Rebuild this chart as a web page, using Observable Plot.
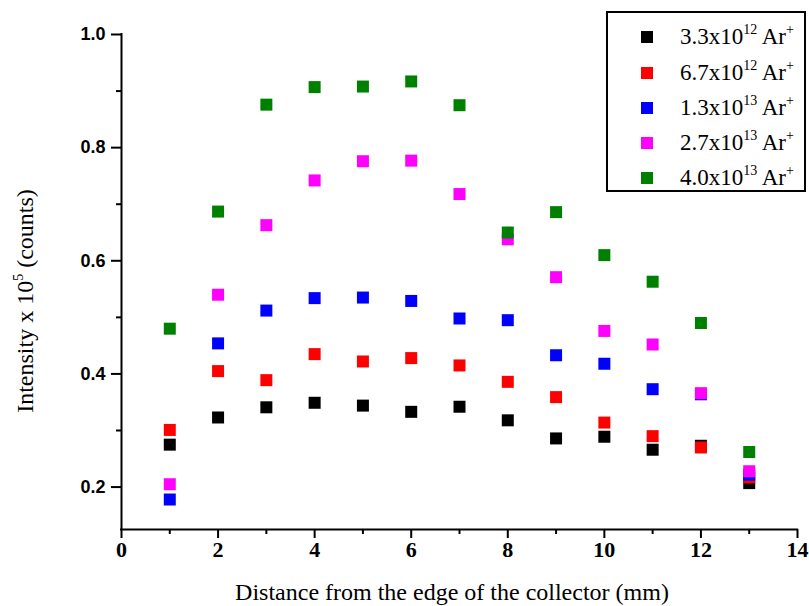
<!DOCTYPE html>
<html><head><meta charset="utf-8">
<script src="https://cdn.jsdelivr.net/npm/d3@7"></script>
<script src="https://cdn.jsdelivr.net/npm/@observablehq/plot@0.6"></script>
<style>
body{margin:0;background:#fff;}
#wrap{position:relative;width:809px;height:606px;overflow:hidden;}
.legend{position:absolute;left:606px;top:11px;width:196px;height:177px;border:2px solid #000;background:#fff;
  font-family:"Liberation Serif","Times New Roman",serif;font-size:23px;color:#000;}
.row{position:absolute;left:0;width:190px;height:24px;line-height:24px;white-space:nowrap;}
.sw{position:absolute;left:33px;top:6px;width:12px;height:12px;}
.lbl{position:absolute;left:72px;top:0;}
.lbl sup{font-size:14px;vertical-align:10px;line-height:0;}
</style>
</head><body>
<div id="wrap"></div>
<script>
const distance = [1,2,3,4,5,6,7,8,9,10,11,12,13];
const series1 = [0.275,0.323,0.341,0.349,0.344,0.333,0.342,0.318,0.286,0.289,0.266,0.273,0.207]; // 3.3x10^12
const series2 = [0.301,0.405,0.389,0.435,0.422,0.428,0.415,0.386,0.359,0.314,0.290,0.270,0.217]; // 6.7x10^12
const series3 = [0.178,0.454,0.512,0.534,0.535,0.529,0.498,0.495,0.433,0.418,0.373,0.364,0.222]; // 1.3x10^13
const series4 = [0.205,0.540,0.663,0.742,0.776,0.777,0.718,0.638,0.571,0.476,0.452,0.366,0.228]; // 2.7x10^13
const series5 = [0.480,0.687,0.876,0.907,0.908,0.917,0.875,0.650,0.686,0.610,0.563,0.490,0.262]; // 4.0x10^13
const seriesMantissa = ["3.3","6.7","1.3","2.7","4.0"];
const seriesExponent = ["12","12","13","13","13"];
const seriesColors = ["#000000","#ff0000","#0000ff","#ff00ff","#008000"];
const xMajorTicks = [0,2,4,6,8,10,12,14];
const xMinorTicks = [1,3,5,7,9,11,13];
const yMajorTicks = [0.2,0.4,0.6,0.8,1.0];
const yMinorTicks = [0.3,0.5,0.7,0.9];
const xTitle = "Distance from the edge of the collector (mm)";

const allSeries = [series1,series2,series3,series4,series5];
const data = [];
allSeries.forEach((vals, si) => vals.forEach((v, i) => data.push({x: distance[i], y: v, s: si})));

const serif = "Liberation Serif";
const sans = "Liberation Sans";

const chart = Plot.plot({
  width: 809, height: 606,
  marginLeft: 121, marginRight: 12, marginTop: 34, marginBottom: 77,
  style: {background: "#fff", color: "#000"},
  x: {domain: [0, 14]},
  y: {domain: [0.125, 1.0]},
  marks: [
    Plot.axisX({ticks: xMinorTicks, tickSize: 5, strokeWidth: 2, text: null, label: null}),
    Plot.axisX({ticks: xMajorTicks, tickSize: 9, strokeWidth: 2, text: null, label: null}),
    Plot.axisY({ticks: yMinorTicks, tickSize: 5, strokeWidth: 2, text: null, label: null}),
    Plot.axisY({ticks: yMajorTicks, tickSize: 10, strokeWidth: 2, text: null, label: null}),
    Plot.text(xMajorTicks, {x: d => d, text: d => String(d), frameAnchor: "bottom", dy: 27,
      fontFamily: serif, fontWeight: "bold", fontSize: 22, fill: "#000"}),
    Plot.text(yMajorTicks, {y: d => d, text: d => d3.format(".1f")(d), frameAnchor: "left", dx: -16,
      textAnchor: "end", fontFamily: sans, fontWeight: "bold", fontSize: 18, fill: "#000"}),
    Plot.ruleX([0], {strokeWidth: 2, strokeLinecap: "square"}),
    Plot.ruleY([0.125], {strokeWidth: 2, strokeLinecap: "square"}),
    Plot.dot(data, {x: "x", y: "y", symbol: "square", r: 12 / Math.sqrt(Math.PI),
      fill: d => seriesColors[d.s], stroke: "none"})
  ]
});

const svg = d3.select(chart);
svg.append("text")
  .attr("x", 452).attr("y", 600)
  .attr("text-anchor", "middle")
  .style("font-family", serif).style("font-size", "24px").attr("fill", "#000")
  .text(xTitle);
const yt = svg.append("text")
  .attr("transform", "translate(33,301) rotate(-90)")
  .attr("text-anchor", "middle")
  .style("font-family", serif).style("font-size", "24px").attr("fill", "#000");
yt.append("tspan").text("Intensity x 10");
yt.append("tspan").style("font-size", "14px").attr("dy", -10).text("5");
yt.append("tspan").attr("dy", 10).text(" (counts)");

const wrap = document.getElementById("wrap");
wrap.appendChild(chart);

const legend = document.createElement("div");
legend.className = "legend";
const rowCenters = [24, 60, 95, 130, 165];
seriesMantissa.forEach((m, i) => {
  const row = document.createElement("div");
  row.className = "row";
  row.style.top = (rowCenters[i] - 12) + "px";
  row.innerHTML = `<div class="sw" style="background:${seriesColors[i]}"></div>` +
    `<span class="lbl">${m}x10<sup>${seriesExponent[i]}</sup> Ar<sup>+</sup></span>`;
  legend.appendChild(row);
});
wrap.appendChild(legend);
</script>
</body></html>
